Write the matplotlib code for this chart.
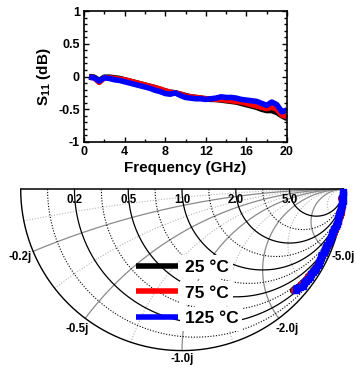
import numpy as np
import matplotlib
matplotlib.use('Agg')
import matplotlib.pyplot as plt
from matplotlib.ticker import MultipleLocator

plt.rcParams['font.family'] = ['Liberation Sans', 'DejaVu Sans']
plt.rcParams['font.weight'] = 'bold'
plt.rcParams['axes.unicode_minus'] = False
plt.rcParams['mathtext.fontset'] = 'custom'
plt.rcParams['mathtext.rm'] = 'Liberation Sans:bold'
plt.rcParams['mathtext.default'] = 'regular'

# measured S11, 0.5 GHz steps
freq = [0.5, 1.0, 1.5, 2.0, 2.5, 3.0, 3.5, 4.0, 4.5, 5.0,
        5.5, 6.0, 6.5, 7.0, 7.5, 8.0, 8.5, 9.0, 9.5, 10.0,
        10.5, 11.0, 11.5, 12.0, 12.5, 13.0, 13.5, 14.0, 14.5, 15.0,
        15.5, 16.0, 16.5, 17.0, 17.5, 18.0, 18.5, 19.0, 19.5, 20.0]

s11_db_25 = [0.00, -0.01, -0.06, -0.01, -0.01, -0.02, -0.03, -0.05, -0.07, -0.09,
             -0.11, -0.13, -0.15, -0.17, -0.20, -0.22, -0.24, -0.25, -0.27, -0.29,
             -0.31, -0.32, -0.33, -0.34, -0.35, -0.35, -0.36, -0.37, -0.38, -0.39,
             -0.41, -0.43, -0.45, -0.47, -0.50, -0.52, -0.52, -0.55, -0.60, -0.64]
s11_db_75 = [-0.01, -0.02, -0.09, -0.02, -0.02, -0.03, -0.04, -0.05, -0.07, -0.09,
             -0.11, -0.13, -0.15, -0.17, -0.19, -0.22, -0.24, -0.25, -0.27, -0.30,
             -0.31, -0.32, -0.33, -0.34, -0.34, -0.35, -0.35, -0.36, -0.37, -0.38,
             -0.39, -0.41, -0.43, -0.45, -0.47, -0.49, -0.47, -0.50, -0.59, -0.61]
s11_db_125 = [-0.01, -0.02, -0.07, -0.02, -0.03, -0.05, -0.06, -0.08, -0.10, -0.12,
              -0.14, -0.16, -0.18, -0.21, -0.23, -0.26, -0.27, -0.25, -0.29, -0.32,
              -0.33, -0.34, -0.34, -0.35, -0.34, -0.33, -0.31, -0.32, -0.32, -0.33,
              -0.35, -0.36, -0.37, -0.38, -0.41, -0.44, -0.39, -0.43, -0.54, -0.51]

# phase in degrees
phase_25 = [-1.0, -2.1, -3.3, -4.2, -5.2, -6.3, -7.4, -8.5, -9.5, -10.5,
            -11.6, -12.7, -13.7, -14.8, -15.8, -16.9, -17.9, -18.9, -20.0, -21.1,
            -22.1, -23.2, -24.2, -25.2, -26.3, -27.3, -28.4, -29.4, -30.5, -31.6,
            -32.6, -33.7, -34.7, -35.8, -36.8, -37.9, -38.9, -40.0, -41.1, -42.3]
phase_75 = [-1.0, -2.1, -3.2, -4.2, -5.2, -6.3, -7.3, -8.4, -9.4, -10.5,
            -11.5, -12.6, -13.6, -14.7, -15.7, -16.8, -17.8, -18.9, -19.9, -21.0,
            -22.0, -23.1, -24.1, -25.2, -26.2, -27.3, -28.3, -29.4, -30.4, -31.5,
            -32.5, -33.6, -34.6, -35.7, -36.7, -37.8, -38.8, -39.9, -40.9, -42.0]
phase_125 = [-1.0, -2.0, -3.1, -4.1, -5.1, -6.2, -7.2, -8.3, -9.3, -10.4,
             -11.4, -12.5, -13.5, -14.5, -15.6, -16.6, -17.7, -18.7, -19.8, -20.8,
             -21.9, -22.9, -24.0, -25.0, -26.0, -27.1, -28.1, -29.2, -30.2, -31.3,
             -32.3, -33.4, -34.4, -35.5, -36.5, -37.5, -38.6, -39.6, -40.7, -41.7]

labels = ['25 \u00b0C', '75 \u00b0C', '125 \u00b0C']
colors = ['black', 'red', 'blue']
markers = ['o', 'o', 's']
db_sets = [s11_db_25, s11_db_75, s11_db_125]
phase_sets = [phase_25, phase_75, phase_125]

x_ticks = [0, 4, 8, 12, 16, 20]
y_ticks = [-1, -0.5, 0, 0.5, 1]
y_ticklabels = ['-1', '-0.5', '0', '0.5', '1']

W, H = 356, 369
fig = plt.figure(figsize=(W / 100, H / 100), dpi=100)

# ---- S11 magnitude vs frequency ----
ax1 = fig.add_axes([84 / W, 1 - 142 / H, 203 / W, 131 / H])
handles = []
for db, c, lab in zip(db_sets, colors, labels):
    h, = ax1.plot(freq, db, color=c, lw=4, solid_capstyle='butt', label=lab)
    handles.append(h)
ax1.set_xlim(0, 20)
ax1.set_ylim(-1, 1)
ax1.set_xticks(x_ticks)
ax1.set_yticks(y_ticks)
ax1.set_yticklabels(y_ticklabels)
ax1.xaxis.set_minor_locator(MultipleLocator(2))
ax1.yaxis.set_minor_locator(MultipleLocator(0.1))
ax1.tick_params(which='both', direction='in', top=True, right=True,
                labelsize=9, width=1, pad=3)
ax1.tick_params(which='major', length=3.5)
ax1.tick_params(which='minor', length=2)
for s in ax1.spines.values():
    s.set_linewidth(1.2)
ax1.set_xlabel('Frequency (GHz)', fontsize=11, fontweight='bold', labelpad=2)
ax1.set_ylabel('S$_{11}$ (dB)', fontsize=11, fontweight='bold', labelpad=4)

# ---- Smith chart (lower half) ----
cx, cy, R = 182.0, 189.3, 161.3
top_px = 172
ax2 = fig.add_axes([0, 0, 1, (H - top_px) / H])
ax2.set_xlim(-cx / R, (W - cx) / R)
ax2.set_ylim((cy - H) / R, (cy - top_px) / R)
ax2.axis('off')


def gamma(z):
    return (z - 1) / (z + 1)


t = np.linspace(0, np.pi / 2 - 1e-4, 600)
sweep = np.tan(t)

r_major = [0.2, 0.5, 1.0, 2.0, 5.0]
x_major = [0.2, 0.5, 1.0, 2.0, 5.0]

# resistance circles, dotted ones halfway between the solid ones
g_left = [-1.0] + [(r - 1) / (r + 1) for r in r_major]
r_minor = []
for a, b in zip(g_left[:-1], g_left[1:]):
    gm = (a + b) / 2
    r_minor.append((1 + gm) / (1 - gm))

# reactance arcs, dotted ones halfway in angle
ang = [0.0] + [2 * np.arctan(x) for x in x_major] + [np.pi]
x_minor = [np.tan((a + b) / 4) for a, b in zip(ang[:-1], ang[1:])]

for x in x_minor:
    g = gamma(sweep - 1j * x)
    ax2.plot(g.real, g.imag, color='#b5b5b5', lw=0.8, ls=(0, (1, 1.5)), zorder=1)
for x in x_major:
    g = gamma(sweep - 1j * x)
    ax2.plot(g.real, g.imag, color='#8a8a8a', lw=0.9, zorder=1)
for r in r_minor:
    g = gamma(r - 1j * sweep)
    ax2.plot(g.real, g.imag, color='black', lw=0.8, ls=(0, (1, 1.5)), zorder=1.5)
for r in r_major:
    g = gamma(r - 1j * sweep)
    ax2.plot(g.real, g.imag, color='black', lw=0.9, zorder=1.5)

th = np.linspace(np.pi, 2 * np.pi, 400)
ax2.plot(np.cos(th), np.sin(th), color='black', lw=1.0, zorder=1.6)
ax2.plot([-1, 1], [0, 0], color='black', lw=1.1, zorder=1.6)

for r in r_major:
    ax2.text((r - 1) / (r + 1), -0.028, f'{r:.1f}', ha='center', va='top',
             fontsize=8.3, fontweight='bold')
for x in x_major:
    g = gamma(-1j * x)
    rl = 1.055 if x == 1.0 else 1.085
    ax2.text(rl * g.real, rl * g.imag, f'-{x:.1f}j', ha='center', va='center',
             fontsize=8.3, fontweight='bold')

for db, ph, c, m in zip(db_sets, phase_sets, colors, markers):
    g = 10 ** (np.array(db) / 20) * np.exp(1j * np.radians(ph))
    ax2.plot(g.real, g.imag, color=c, lw=1.5, marker=m, ms=4.2,
             mec=c, mfc=c, zorder=3)

leg = ax2.legend(handles=handles, loc='upper left',
                 bbox_to_anchor=(136 / W, (H - 259.5) / H), bbox_transform=fig.transFigure,
                 frameon=False, fontsize=12.5, handlelength=2.4,
                 handletextpad=0.4, labelspacing=0.62, borderpad=0, borderaxespad=0)
for txt in leg.get_texts():
    txt.set_bbox(dict(facecolor='white', edgecolor='none', pad=3))
leg.set_zorder(5)

fig.savefig('out.png', dpi=100)
